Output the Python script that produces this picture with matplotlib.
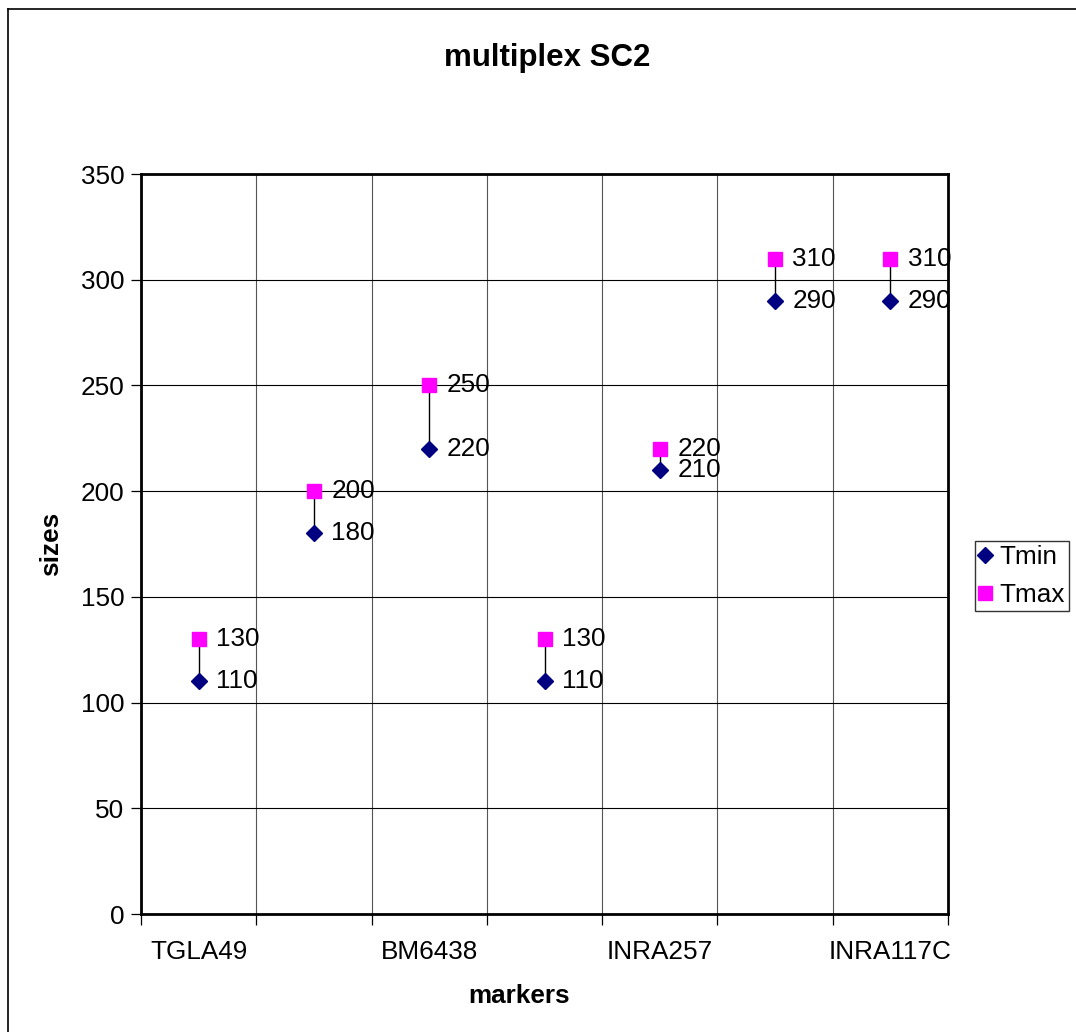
import matplotlib
matplotlib.use("Agg")
import matplotlib.pyplot as plt
from matplotlib.lines import Line2D
import numpy as np

plt.rcParams['font.family'] = ['Liberation Sans', 'DejaVu Sans']

categories = ["TGLA49", "", "BM6438", "", "INRA257", "", "INRA117C"]
tmin = [110, 180, 220, 110, 210, 290, 290]
tmax = [130, 200, 250, 130, 220, 310, 310]
y_ticks = [0, 50, 100, 150, 200, 250, 300, 350]

W, H = 1076, 1032
FS = 18.8
fig = plt.figure(figsize=(W / 100, H / 100), dpi=100)
fig.patch.set_facecolor("white")

# outer chart-area frame (left/top visible, rest cut off)
fig.add_artist(Line2D([8 / W, 8 / W], [0, 1 - 9 / H], transform=fig.transFigure,
                      color="black", lw=1.2))
fig.add_artist(Line2D([8 / W, 1], [1 - 9 / H, 1 - 9 / H], transform=fig.transFigure,
                      color="black", lw=1.2))

ax = fig.add_axes([141 / W, 1 - 914 / H, (948 - 141) / W, (914 - 174) / H])
x = np.arange(len(categories))
ax.set_xlim(-0.5, len(categories) - 0.5)
ax.set_ylim(0, 350)

ax.set_yticks(y_ticks)
ax.set_xticks(x[::2])
ax.set_xticklabels([categories[i] for i in x[::2]])
ax.set_xticks(np.arange(-0.5, len(categories), 1.0), minor=True)
ax.grid(True, which="major", axis="y", color="black", lw=0.8)
ax.grid(True, which="minor", axis="x", color="#555555", lw=0.8)
ax.set_axisbelow(True)
ax.tick_params(axis="x", which="major", length=0, pad=19, labelsize=FS)
ax.tick_params(axis="x", which="minor", length=8, width=0.9, direction="out")
ax.tick_params(axis="y", which="major", length=7, width=0.9, direction="out", pad=5,
               labelsize=FS)
for s in ax.spines.values():
    s.set_linewidth(2)
    s.set_color("black")

# high-low lines
ax.vlines(x, tmin, tmax, color="black", lw=1, zorder=3)

ax.plot(x, tmin, linestyle="none", marker="D", markersize=8.5, color="#000080",
        markeredgecolor="#000080", zorder=4, label="Tmin")
ax.plot(x, tmax, linestyle="none", marker="s", markersize=10.5, color="#FF00FF",
        markeredgecolor="#FF00FF", zorder=4, label="Tmax")

for xi, a, b in zip(x, tmin, tmax):
    ax.annotate(str(a), (xi, a), xytext=(12.5, 0), textcoords="offset points",
                va="center", ha="left", fontsize=FS)
    ax.annotate(str(b), (xi, b), xytext=(12.5, 0), textcoords="offset points",
                va="center", ha="left", fontsize=FS)

fig.text(547 / W, 1 - 58 / H, "multiplex SC2", ha="center", va="center",
         fontsize=22.5, fontweight="bold")
fig.text(51 / W, 1 - 544 / H, "sizes", ha="center", va="center", rotation=90,
         fontsize=FS, fontweight="bold")
fig.text(519 / W, 1 - 996 / H, "markers", ha="center", va="center",
         fontsize=FS, fontweight="bold")

leg = fig.legend(handles=[
    Line2D([], [], linestyle="none", marker="D", markersize=8.5, color="#000080"),
    Line2D([], [], linestyle="none", marker="s", markersize=10.5, color="#FF00FF")],
    labels=["Tmin", "Tmax"], loc="upper left", bbox_to_anchor=(975 / W, 1 - 541 / H),
    bbox_transform=fig.transFigure, frameon=True, fancybox=False, fontsize=FS,
    handlelength=0.5, handletextpad=0.3, borderpad=0.15, labelspacing=0.55,
    borderaxespad=0)
leg.get_frame().set_edgecolor("black")
leg.get_frame().set_linewidth(1)

fig.savefig("out.png", dpi=100, facecolor="white")
